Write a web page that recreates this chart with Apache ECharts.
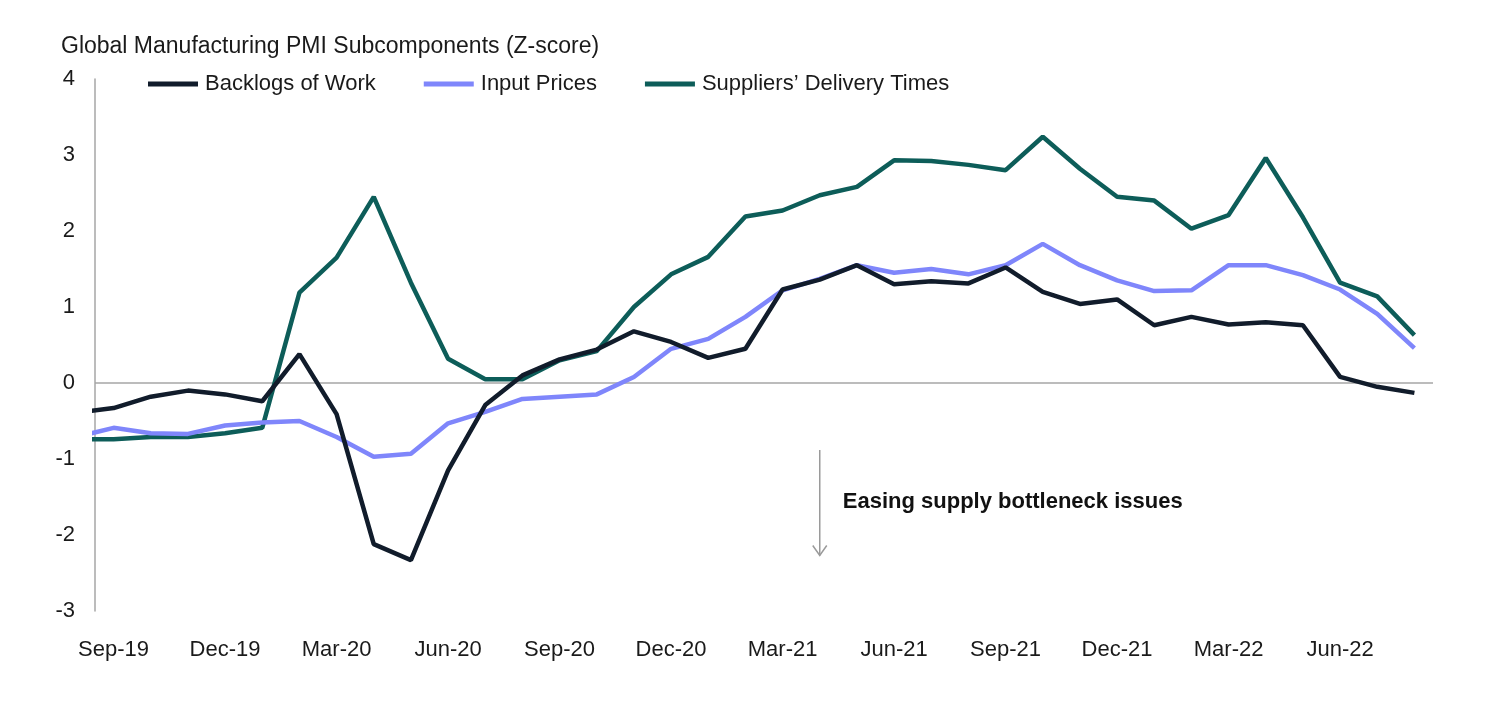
<!DOCTYPE html>
<html>
<head>
<meta charset="utf-8">
<script src="https://cdn.jsdelivr.net/npm/echarts@6/dist/echarts.min.js"></script>
<style>
html,body{margin:0;padding:0;background:#fff;}
#chart{width:1502px;height:718px;}
</style>
</head>
<body>
<div id="chart"></div>
<script>
// Months: index -1 = Aug-19 (partly hidden), 0 = Sep-19 ... 35 = Aug-22
const months = ['Aug-19','Sep-19','Oct-19','Nov-19','Dec-19','Jan-20','Feb-20','Mar-20','Apr-20','May-20','Jun-20','Jul-20','Aug-20',
  'Sep-20','Oct-20','Nov-20','Dec-20','Jan-21','Feb-21','Mar-21','Apr-21','May-21','Jun-21','Jul-21','Aug-21',
  'Sep-21','Oct-21','Nov-21','Dec-21','Jan-22','Feb-22','Mar-22','Apr-22','May-22','Jun-22','Jul-22','Aug-22'];
const tickMonths = ['Sep-19','Dec-19','Mar-20','Jun-20','Sep-20','Dec-20','Mar-21','Jun-21','Sep-21','Dec-21','Mar-22','Jun-22'];
const backlogs = [-0.39,-0.33,-0.18,-0.10,-0.15,-0.24,0.38,-0.41,-2.12,-2.33,-1.15,-0.29,0.10,0.31,0.44,0.68,0.54,0.33,0.45,
  1.23,1.36,1.55,1.30,1.34,1.31,1.52,1.20,1.04,1.10,0.76,0.87,0.77,0.80,0.76,0.08,-0.05,-0.13];
const inputPrices = [-0.71,-0.59,-0.66,-0.67,-0.56,-0.52,-0.50,-0.71,-0.97,-0.93,-0.53,-0.38,-0.21,-0.18,-0.15,0.08,0.45,0.58,0.87,
  1.22,1.37,1.55,1.45,1.50,1.43,1.55,1.83,1.55,1.35,1.21,1.22,1.55,1.55,1.42,1.23,0.91,0.46];
const suppliers = [-0.74,-0.74,-0.71,-0.71,-0.66,-0.59,1.19,1.65,2.45,1.32,0.32,0.05,0.05,0.30,0.42,1.00,1.43,1.66,2.19,
  2.27,2.47,2.58,2.93,2.92,2.87,2.80,3.24,2.82,2.45,2.40,2.03,2.21,2.96,2.18,1.32,1.14,0.63];
const yTicks = [-3,-2,-1,0,1,2,3,4];

const FONT = '"Liberation Sans", Arial, sans-serif';
const idx = m => months.indexOf(m) - 1;
const toPts = arr => arr.map((v, i) => [i - 1, v]);
const tickIdx = tickMonths.map(idx);

const chart = echarts.init(document.getElementById('chart'), null, {renderer: 'canvas'});
const option = {
  animation: false,
  backgroundColor: '#ffffff',
  textStyle: {fontFamily: FONT},
  title: {
    text: 'Global Manufacturing PMI Subcomponents (Z-score)',
    left: 56, top: 30,
    textStyle: {fontFamily: FONT, fontSize: 23, fontWeight: 'normal', color: '#1a1a1a'}
  },
  legend: {
    left: 143, top: 68,
    icon: 'rect', itemWidth: 50, itemHeight: 5, itemGap: 48,
    textStyle: {fontFamily: FONT, fontSize: 22, color: '#1a1a1a', padding: [0, 0, 0, 2]},
    data: ['Backlogs of Work', 'Input Prices', 'Suppliers’ Delivery Times']
  },
  grid: {left: 95, right: 69, top: 79, bottom: 107},
  xAxis: {
    type: 'value', min: -0.5, max: 35.5,
    axisLine: {show: false}, axisTick: {show: false}, splitLine: {show: false},
    axisLabel: {
      customValues: tickIdx,
      formatter: v => months[Math.round(v) + 1] || '',
      fontFamily: FONT, fontSize: 22, color: '#1a1a1a', margin: 28
    }
  },
  yAxis: {
    type: 'value', min: -3, max: 4, interval: 1,
    axisLine: {show: true, onZero: false, lineStyle: {color: '#a6a6a6', width: 1.5}},
    axisTick: {show: false}, splitLine: {show: false},
    axisLabel: {
      formatter: v => yTicks.includes(v) ? String(v) : '',
      fontFamily: FONT, fontSize: 22, color: '#1a1a1a', margin: 20, padding: [6, 0, 0, 0]
    }
  },
  series: [
    {
      name: 'Backlogs of Work', type: 'line', z: 5, symbol: 'none',
      data: toPts(backlogs),
      lineStyle: {color: '#111c2b', width: 4.5}, itemStyle: {color: '#111c2b'}
    },
    {
      name: 'Input Prices', type: 'line', z: 4, symbol: 'none',
      data: toPts(inputPrices),
      lineStyle: {color: '#7f86fb', width: 4.5}, itemStyle: {color: '#7f86fb'}
    },
    {
      name: 'Suppliers’ Delivery Times', type: 'line', z: 3, symbol: 'none',
      data: toPts(suppliers),
      lineStyle: {color: '#0d5d59', width: 4.5}, itemStyle: {color: '#0d5d59'},
      markLine: {
        silent: true, symbol: 'none', label: {show: false}, z: 1,
        lineStyle: {color: '#a6a6a6', width: 1.5, type: 'solid'},
        data: [{yAxis: 0}]
      }
    }
  ]
};
chart.setOption(option);

// annotation arrow & text anchored to data coordinates
const arrowX = idx('Apr-21');
const pTop = chart.convertToPixel({gridIndex: 0}, [arrowX, -0.88]);
const pBot = chart.convertToPixel({gridIndex: 0}, [arrowX, -2.27]);
const pTxt = chart.convertToPixel({gridIndex: 0}, [arrowX + 0.62, -1.57]);
chart.setOption({
  graphic: [
    {type: 'line', shape: {x1: pTop[0], y1: pTop[1], x2: pBot[0], y2: pBot[1]},
     style: {stroke: '#9a9a9a', lineWidth: 1.5}},
    {type: 'polyline', shape: {points: [[pBot[0] - 7, pBot[1] - 10], [pBot[0], pBot[1]], [pBot[0] + 7, pBot[1] - 10]]},
     style: {stroke: '#9a9a9a', lineWidth: 1.5, fill: null}},
    {type: 'text', x: pTxt[0], y: pTxt[1],
     style: {text: 'Easing supply bottleneck issues', fontFamily: FONT, fontSize: 22, fontWeight: 'bold',
             fill: '#111111', textVerticalAlign: 'middle', verticalAlign: 'middle'}}
  ]
});
</script>
</body>
</html>
